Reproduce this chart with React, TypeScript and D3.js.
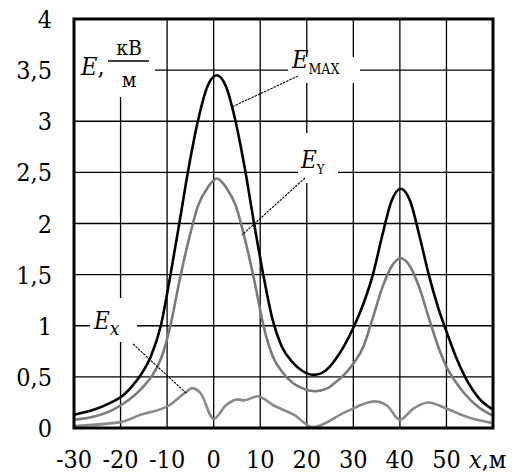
import React, { useEffect, useRef } from 'react';
import * as d3 from 'd3';

// данные
const xTicks = [-30, -20, -10, 0, 10, 20, 30, 40, 50];
const yTicks = [0, 0.5, 1, 1.5, 2, 2.5, 3, 3.5, 4];

const emaxX = [-30, -25, -22, -20, -17.5, -15.5, -13.5, -11.35, -9.35, -7.35, -5.35, -3.35, -1.35, 0.65, 2.65, 4.65, 6.65, 8.65, 10.65, 12.65, 14.6, 17, 19, 21.5, 24, 26, 28, 30.2, 32.2, 34.2, 36.2, 38.2, 40.2, 42.2, 44.2, 46.2, 48.2, 50.2, 52, 54, 57, 60];
const emaxV = [0.13, 0.19, 0.25, 0.3, 0.41, 0.53, 0.7, 1.0, 1.48, 2.01, 2.55, 3.01, 3.34, 3.45, 3.34, 3.01, 2.55, 2.01, 1.5, 1.06, 0.8, 0.64, 0.56, 0.52, 0.56, 0.66, 0.8, 1.0, 1.22, 1.5, 1.88, 2.22, 2.34, 2.22, 1.88, 1.5, 1.18, 0.92, 0.7, 0.5, 0.29, 0.18];

const eyX = [-30, -25, -22.5, -20, -17, -15, -13.1, -11.3, -9.3, -7.3, -5.3, -3.3, -1.3, 0.7, 2.7, 4.7, 6.7, 8.7, 10.7, 12.7, 14.7, 17, 19, 21.8, 24.5, 26, 28, 30.2, 32.2, 34.2, 36.2, 38.2, 40.2, 42.2, 44.2, 46.2, 48.2, 50.2, 52, 54, 57, 60];
const eyV = [0.08, 0.12, 0.16, 0.22, 0.32, 0.41, 0.52, 0.68, 1.0, 1.45, 1.85, 2.18, 2.35, 2.44, 2.35, 2.18, 1.85, 1.45, 1.0, 0.7, 0.55, 0.44, 0.39, 0.36, 0.39, 0.44, 0.52, 0.64, 0.8, 1.08, 1.37, 1.58, 1.66, 1.58, 1.37, 1.08, 0.8, 0.58, 0.45, 0.33, 0.2, 0.12];

const exX = [-30, -19.8, -15.7, -9.6, -6.0, -4.6, -2.8, 0, 2.6, 5.1, 6.5, 9.4, 12.9, 17.2, 21.3, 28.5, 34.6, 37.2, 40, 42.9, 46.1, 50, 54.3, 59.7];
const exV = [0.02, 0.06, 0.13, 0.22, 0.35, 0.39, 0.34, 0.09, 0.22, 0.28, 0.27, 0.31, 0.22, 0.13, 0.01, 0.16, 0.26, 0.22, 0.08, 0.19, 0.25, 0.19, 0.11, 0.05];

const W = 522;
const H = 475;
const serif = '"DejaVu Serif Condensed", "DejaVu Serif", serif';

export default function App() {
	const svgRef = useRef<SVGSVGElement | null>(null);

	useEffect(() => {
		const svg = d3.select(svgRef.current);
		svg.selectAll('*').remove();

		const x = d3.scaleLinear().domain([-30, 60]).range([74, 493]);
		const y = d3.scaleLinear().domain([0, 4]).range([428, 19]);

		// сетка
		const grid = svg.append('g').attr('stroke', '#000').attr('stroke-width', 1.3);
		grid.selectAll('line.v').data(xTicks.slice(1)).join('line')
			.attr('x1', d => x(d)).attr('x2', d => x(d)).attr('y1', y(0)).attr('y2', y(4));
		grid.selectAll('line.h').data(yTicks.slice(1, -1)).join('line').attr('class', 'h')
			.attr('x1', x(-30)).attr('x2', x(60)).attr('y1', d => y(d)).attr('y2', d => y(d));

		// белые подложки под подписи
		const boxes = [
			[74, 19, 81, 78],
			[288, 57, 72, 26],
			[298, 133, 40, 50],
			[90, 298, 47, 44],
		];
		svg.append('g').selectAll('rect').data(boxes).join('rect')
			.attr('x', d => d[0]).attr('y', d => d[1]).attr('width', d => d[2]).attr('height', d => d[3])
			.attr('fill', '#fff');

		const line = (xs: number[], vs: number[]) =>
			d3.line<number>().x((_, i) => x(xs[i])).y(d => y(d)).curve(d3.curveMonotoneX)(vs);

		svg.append('path').attr('d', line(exX, exV)).attr('fill', 'none').attr('stroke', '#8a8a8a').attr('stroke-width', 2.6);
		svg.append('path').attr('d', line(eyX, eyV)).attr('fill', 'none').attr('stroke', '#7a7a7a').attr('stroke-width', 2.6);
		svg.append('path').attr('d', line(emaxX, emaxV)).attr('fill', 'none').attr('stroke', '#000').attr('stroke-width', 2.6);

		// выноски
		const leaders = [
			[298, 76, 232, 107],
			[305, 178, 242, 235],
			[133, 344, 186, 393],
		];
		svg.append('g').selectAll('line').data(leaders).join('line')
			.attr('x1', d => d[0]).attr('y1', d => d[1]).attr('x2', d => d[2]).attr('y2', d => d[3])
			.attr('stroke', '#000').attr('stroke-width', 1.1).attr('stroke-dasharray', '2.5,1');

		// рамка
		svg.append('rect').attr('x', x(-30)).attr('y', y(4)).attr('width', x(60) - x(-30)).attr('height', y(0) - y(4))
			.attr('fill', 'none').attr('stroke', '#000').attr('stroke-width', 3);

		const txt = (sel: any, size: number) =>
			sel.style('font-family', serif).style('font-stretch', 'condensed').style('font-size', `${size}px`);

		// подписи осей
		txt(svg.append('g').selectAll('text').data(yTicks).join('text')
			.attr('x', 52).attr('y', d => y(d) + 9).attr('text-anchor', 'end'), 25)
			.text(d => String(d).replace('.', ','));
		txt(svg.append('g').selectAll('text').data(xTicks).join('text')
			.attr('x', d => x(d)).attr('y', 468).attr('text-anchor', 'middle'), 25)
			.text(d => String(d));
		const xl = txt(svg.append('text').attr('x', 469).attr('y', 468), 25);
		xl.append('tspan').style('font-style', 'italic').text('x');
		xl.append('tspan').text(',м');

		// E, кВ/м
		const el = txt(svg.append('text').attr('x', 81).attr('y', 75), 25);
		el.append('tspan').style('font-style', 'italic').text('E');
		el.append('tspan').text(',');
		txt(svg.append('text').attr('x', 129).attr('y', 55).attr('text-anchor', 'middle'), 21).text('кВ');
		svg.append('line').attr('x1', 108).attr('x2', 149).attr('y1', 61).attr('y2', 61).attr('stroke', '#000').attr('stroke-width', 1.3);
		txt(svg.append('text').attr('x', 129).attr('y', 87).attr('text-anchor', 'middle'), 21).text('м');

		// E_MAX
		const em = txt(svg.append('text').attr('x', 292).attr('y', 68), 25);
		em.append('tspan').style('font-style', 'italic').text('E');
		em.append('tspan').style('font-size', '14px').attr('dy', 6).text('MAX');

		// E_Y
		const ey = txt(svg.append('text').attr('x', 301).attr('y', 168), 24);
		ey.append('tspan').style('font-style', 'italic').text('E');
		ey.append('tspan').style('font-size', '13px').attr('dy', 6).text('Y');

		// E_X
		const ex = txt(svg.append('text').attr('x', 94).attr('y', 329), 24);
		ex.append('tspan').style('font-style', 'italic').text('E');
		ex.append('tspan').style('font-style', 'italic').style('font-size', '19px').attr('dy', 6).text('x');
	}, []);

	return (
		<svg ref={svgRef} width={W} height={H}
			style={{ position: 'absolute', left: 0, top: 0, background: '#fff' }} />
	);
}
